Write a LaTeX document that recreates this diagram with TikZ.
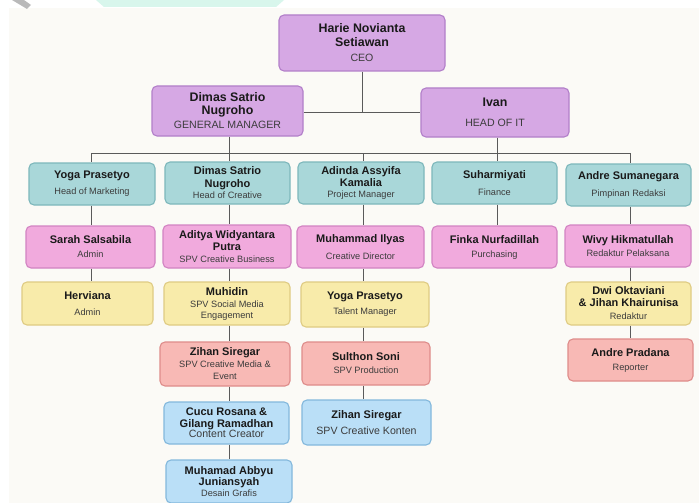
\documentclass[tikz,border=0pt]{standalone}
\usepackage{fontspec}
\setmainfont{Liberation Sans}
\definecolor{bgc}{HTML}{FBFAF6}
\definecolor{linec}{HTML}{5A5A5A}
\definecolor{purf}{HTML}{D6A8E4}\definecolor{purd}{HTML}{B27FC9}
\definecolor{tealf}{HTML}{A9D7D9}\definecolor{teald}{HTML}{7DB7BB}
\definecolor{pinkf}{HTML}{F1AADD}\definecolor{pinkd}{HTML}{D283C2}
\definecolor{yelf}{HTML}{F8EBAA}\definecolor{yeld}{HTML}{DFCB83}
\definecolor{salf}{HTML}{F8B9B5}\definecolor{sald}{HTML}{DE8C8A}
\definecolor{bluf}{HTML}{BADFF7}\definecolor{blud}{HTML}{83B8DC}
\definecolor{txtc}{HTML}{1A1A1A}
\definecolor{rolec}{HTML}{3C3C3C}
\definecolor{mint}{HTML}{D8F6EC}
\newcommand{\nm}[1]{{\fontsize{11}{11}\selectfont\bfseries #1}}
\newcommand{\nmb}[1]{{\fontsize{12.4}{11}\selectfont\bfseries #1}}
\newcommand{\rl}[1]{{\color{rolec}\fontsize{9.2}{11}\selectfont #1}}
\newcommand{\rlb}[1]{{\color{rolec}\fontsize{10.6}{11}\selectfont #1}}
\begin{document}
\begin{tikzpicture}[x=1pt,y=-1pt,
  box/.style={draw, rounded corners=5pt, line width=1.1pt, align=center,
    inner sep=1pt, text=txtc, font=\fontsize{9.2}{11}\selectfont},
  pur/.style={box, fill=purf, draw=purd},
  teal/.style={box, fill=tealf, draw=teald},
  pnk/.style={box, fill=pinkf, draw=pinkd},
  yel/.style={box, fill=yelf, draw=yeld},
  sal/.style={box, fill=salf, draw=sald},
  blu/.style={box, fill=bluf, draw=blud},
  conn/.style={draw=linec, line width=0.9pt}]
\useasboundingbox (0,0) rectangle (699,503);
\fill[white] (0,0) rectangle (699,503);
\fill[bgc] (9,8) rectangle (699,503);
\fill[mint] (96,0) -- (284,0) -- (276,7) -- (104,7) -- cycle;
\fill[gray!55] (12,0) -- (24,0) -- (31,5) -- (27,9) -- cycle;

% level 0-1
\node[pur, minimum width=166pt, minimum height=56pt] (ceo) at (362,43)
  {\nmb{Harie Novianta}\\[3pt]\nmb{Setiawan}\\[4pt]\rlb{CEO}};
\node[pur, minimum width=151pt, minimum height=50pt] (gm) at (227.5,111)
  {\nmb{Dimas Satrio}\\[2pt]\nmb{Nugroho}\\[3pt]\rlb{GENERAL MANAGER}};
\node[pur, minimum width=148pt, minimum height=49pt] (ivan) at (495,112.5)
  {\nmb{Ivan}\\[9pt]\rlb{HEAD OF IT}};

% row 1
\node[teal, minimum width=126pt, minimum height=42pt] (yoga1) at (92,184)
  {\nm{Yoga Prasetyo}\\[5pt]\rl{Head of Marketing}};
\node[teal, minimum width=125pt, minimum height=42pt] (dimas2) at (227.5,183)
  {\nm{Dimas Satrio}\\[2pt]\nm{Nugroho}\\\rl{Head of Creative}};
\node[teal, minimum width=126pt, minimum height=42pt] (adinda) at (361,183)
  {\nm{Adinda Assyifa}\\[1pt]\nm{Kamalia}\\\rl{Project Manager}};
\node[teal, minimum width=125pt, minimum height=42pt] (suhar) at (494.5,183)
  {\nm{Suharmiyati}\\[6pt]\rl{Finance}};
\node[teal, minimum width=125pt, minimum height=42pt] (andre1) at (628.5,185)
  {\nm{Andre Sumanegara}\\[6pt]\rl{Pimpinan Redaksi}};

% row 2
\node[pnk, minimum width=129pt, minimum height=42pt] (sarah) at (90.5,247)
  {\nm{Sarah Salsabila}\\[3pt]\rl{Admin}};
\node[pnk, minimum width=128pt, minimum height=43pt] (aditya) at (227,246.5)
  {\nm{Aditya Widyantara}\\[1pt]\nm{Putra}\\[1pt]\rl{SPV Creative Business}};
\node[pnk, minimum width=127pt, minimum height=42pt] (ilyas) at (360.5,247)
  {\nm{Muhammad Ilyas}\\[6pt]\rl{Creative Director}};
\node[pnk, minimum width=125pt, minimum height=42pt] (finka) at (494.5,247)
  {\nm{Finka Nurfadillah}\\[3pt]\rl{Purchasing}};
\node[pnk, minimum width=126pt, minimum height=42pt] (wivy) at (628,246)
  {\nm{Wivy Hikmatullah}\\[2pt]\rl{Redaktur Pelaksana}};

% row 3
\node[yel, minimum width=131pt, minimum height=43pt] (herv) at (87.5,303.5)
  {\nm{Herviana}\\[5pt]\rl{Admin}};
\node[yel, minimum width=126pt, minimum height=43pt] (muhidin) at (227,303.5)
  {\nm{Muhidin}\\[1pt]\rl{SPV Social Media}\\\rl{Engagement}};
\node[yel, minimum width=128pt, minimum height=45pt] (yogat) at (365,304.5)
  {\nm{Yoga Prasetyo}\\[4pt]\rl{Talent Manager}};
\node[yel, minimum width=125pt, minimum height=43pt] (dwi) at (628.5,303.5)
  {\nm{Dwi Oktaviani}\\[1pt]\nm{\& Jihan Khairunisa}\\[2pt]\rl{Redaktur}};

% row 4
\node[sal, minimum width=130pt, minimum height=44pt] (zihan1) at (225,364)
  {\nm{Zihan Siregar}\\[1pt]\rl{SPV Creative Media \&}\\[1pt]\rl{Event}};
\node[sal, minimum width=128pt, minimum height=43pt] (sulthon) at (366,363.5)
  {\nm{Sulthon Soni}\\[2pt]\rl{SPV Production}};
\node[sal, minimum width=125pt, minimum height=42pt] (andrep) at (630.5,360)
  {\nm{Andre Pradana}\\[3pt]\rl{Reporter}};

% row 5
\node[blu, minimum width=125pt, minimum height=42pt] (cucu) at (226.5,423)
  {\nm{Cucu Rosana \&}\\[1pt]\nm{Gilang Ramadhan}\\[-1pt]\rlb{Content Creator}};
\node[blu, minimum width=129pt, minimum height=45pt] (zihank) at (366.5,422.5)
  {\nm{Zihan Siregar}\\[5pt]\rlb{SPV Creative Konten}};

% row 6
\node[blu, minimum width=126pt, minimum height=43pt] (abbyu) at (229,481.5)
  {\nm{Muhamad Abbyu}\\\nm{Juniansyah}\\\rl{Desain Grafis}};

% coordinates
\coordinate (c1) at (91,153);
\coordinate (c2) at (229,153);
\coordinate (c3) at (363,153);
\coordinate (c4) at (497,153);
\coordinate (c5) at (630,153);
\coordinate (mid) at (362,112);

% connectors
\draw[conn] (ceo.south) -- (mid);
\draw[conn] (gm.east |- mid) -- (ivan.west |- mid);
\draw[conn] (gm.south -| c2) -- (c2);
\draw[conn] (ivan.south -| c4) -- (c4);
\draw[conn] (c1) -- (c5);
\draw[conn] (c1) -- (yoga1.north -| c1);
\draw[conn] (c2) -- (dimas2.north -| c2);
\draw[conn] (c3) -- (adinda.north -| c3);
\draw[conn] (c4) -- (suhar.north -| c4);
\draw[conn] (c5) -- (andre1.north -| c5);
% column 1
\draw[conn] (yoga1.south -| c1) -- (sarah.north -| c1);
\draw[conn] (sarah.south -| c1) -- (herv.north -| c1);
% column 2
\draw[conn] (dimas2.south -| c2) -- (aditya.north -| c2);
\draw[conn] (aditya.south -| c2) -- (muhidin.north -| c2);
\draw[conn] (muhidin.south -| c2) -- (zihan1.north -| c2);
\draw[conn] (zihan1.south -| c2) -- (cucu.north -| c2);
\draw[conn] (cucu.south -| c2) -- (abbyu.north -| c2);
% column 3
\draw[conn] (adinda.south -| c3) -- (ilyas.north -| c3);
\draw[conn] (ilyas.south -| c3) -- (yogat.north -| c3);
\draw[conn] (yogat.south -| c3) -- (sulthon.north -| c3);
\draw[conn] (sulthon.south -| c3) -- (zihank.north -| c3);
% column 4
\draw[conn] (suhar.south -| c4) -- (finka.north -| c4);
% column 5
\draw[conn] (andre1.south -| c5) -- (wivy.north -| c5);
\draw[conn] (wivy.south -| c5) -- (dwi.north -| c5);
\draw[conn] (dwi.south -| c5) -- (andrep.north -| c5);
\end{tikzpicture}
\end{document}
